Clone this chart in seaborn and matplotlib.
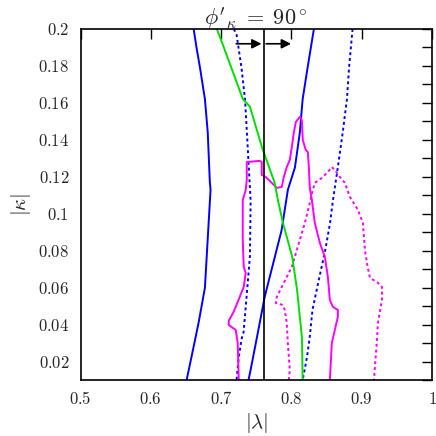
import numpy as np
import pandas as pd
import matplotlib
matplotlib.use("Agg")
import matplotlib.pyplot as plt
import seaborn as sns

# ---------------------------------------------------------
# Curve data
# ---------------------------------------------------------
blue_left_x = [0.661, 0.665, 0.670, 0.677, 0.681, 0.684, 0.685, 0.680, 0.677, 0.668, 0.662, 0.651]
blue_left_y = [0.200, 0.190, 0.179, 0.162, 0.144, 0.117, 0.113, 0.080, 0.060, 0.041, 0.030, 0.010]

blue_right_x = [0.739, 0.742, 0.755, 0.762, 0.772, 0.786, 0.795, 0.805, 0.812, 0.816, 0.823, 0.832]
blue_right_y = [0.010, 0.0155, 0.041, 0.055, 0.070, 0.091, 0.113, 0.125, 0.144, 0.162, 0.179, 0.200]

blue_dot_left_x = [0.718, 0.722, 0.729, 0.734, 0.738, 0.742, 0.741, 0.736, 0.732, 0.729, 0.725, 0.722]
blue_dot_left_y = [0.200, 0.197, 0.179, 0.162, 0.135, 0.107, 0.077, 0.054, 0.036, 0.032, 0.022, 0.010]

blue_dot_right_x = [0.887, 0.882, 0.879, 0.873, 0.866, 0.859, 0.855, 0.848, 0.840, 0.830, 0.826, 0.822, 0.816]
blue_dot_right_y = [0.200, 0.179, 0.162, 0.144, 0.125, 0.107, 0.095, 0.080, 0.066, 0.048, 0.033, 0.022, 0.010]

green_x = [0.694, 0.702, 0.731, 0.741, 0.755, 0.759, 0.776, 0.781, 0.788, 0.801, 0.808, 0.815, 0.816]
green_y = [0.200, 0.192, 0.162, 0.158, 0.140, 0.135, 0.117, 0.107, 0.095, 0.077, 0.059, 0.033, 0.010]

mag_x = [0.7251, 0.7236, 0.7208, 0.7108, 0.7108, 0.7179, 0.7265, 0.7322, 0.7350, 0.7322, 0.7308,
         0.7308, 0.7350, 0.7365, 0.7365, 0.7550, 0.7578, 0.7578, 0.7635, 0.7721, 0.7792, 0.7863,
         0.7892, 0.7934, 0.7977, 0.8006, 0.8034, 0.8063, 0.8120, 0.8148, 0.8162, 0.8205, 0.8234,
         0.8248, 0.8262, 0.8291, 0.8333, 0.8405, 0.8476, 0.8519, 0.8547, 0.8590, 0.8661, 0.8661,
         0.8618, 0.8575, 0.8547]
mag_y = [0.0100, 0.0301, 0.0371, 0.0398, 0.0420, 0.0469, 0.0550, 0.0604, 0.0680, 0.0712, 0.0858,
         0.1075, 0.1129, 0.1183, 0.1280, 0.1286, 0.1280, 0.1210, 0.1199, 0.1167, 0.1140, 0.1145,
         0.1199, 0.1253, 0.1291, 0.1361, 0.1437, 0.1497, 0.1524, 0.1508, 0.1399, 0.1345, 0.1334,
         0.1253, 0.1140, 0.1075, 0.0950, 0.0842, 0.0766, 0.0658, 0.0534, 0.0496, 0.0479, 0.0442,
         0.0371, 0.0301, 0.0100]

mag_dot_x = [0.7963, 0.7977, 0.7949, 0.7934, 0.7906, 0.7877, 0.7778, 0.7792, 0.7863, 0.8006,
             0.8048, 0.8191, 0.8262, 0.8305, 0.8333, 0.8433, 0.8519, 0.8575, 0.8618, 0.8689,
             0.8761, 0.8832, 0.8946, 0.9017, 0.9046, 0.9074, 0.9117, 0.9231, 0.9288, 0.9288,
             0.9231, 0.9217, 0.9188, 0.9174]
mag_dot_y = [0.0100, 0.0155, 0.0301, 0.0409, 0.0479, 0.0506, 0.0517, 0.0550, 0.0604, 0.0712,
             0.0766, 0.0950, 0.1058, 0.1129, 0.1167, 0.1194, 0.1226, 0.1253, 0.1237, 0.1199,
             0.1167, 0.1091, 0.1021, 0.0950, 0.0804, 0.0734, 0.0653, 0.0626, 0.0604, 0.0534,
             0.0409, 0.0317, 0.0171, 0.0100]

cut_x = 0.761
arrow_y = 0.192
arrow_starts = [0.7215, 0.7640]
arrow_ends = [0.7575, 0.7995]

x_ticks = [0.5, 0.6, 0.7, 0.8, 0.9, 1.0]
x_ticklabels = ["0.5", "0.6", "0.7", "0.8", "0.9", "1"]
y_ticks = [0.02, 0.04, 0.06, 0.08, 0.10, 0.12, 0.14, 0.16, 0.18, 0.20]
y_ticklabels = ["0.02", "0.04", "0.06", "0.08", "0.1", "0.12", "0.14", "0.16", "0.18", "0.2"]

# ---------------------------------------------------------
# Plot
# ---------------------------------------------------------
sns.set_theme(style="white")
plt.rcParams["mathtext.fontset"] = "cm"
plt.rcParams["font.family"] = ["DejaVu Serif"]

fig = plt.figure(figsize=(4.36, 4.36), dpi=100)
ax = fig.add_axes([80.5 / 436, 56 / 436, 351.5 / 436, 351 / 436])

curves = [
    (blue_left_x, blue_left_y, "#0000ff", "-"),
    (blue_right_x, blue_right_y, "#0000ff", "-"),
    (blue_dot_left_x, blue_dot_left_y, "#0000ff", (0, (1.5, 1.5))),
    (blue_dot_right_x, blue_dot_right_y, "#0000ff", (0, (1.5, 1.5))),
    (mag_x, mag_y, "#ff00ff", "-"),
    (mag_dot_x, mag_dot_y, "#ff00ff", (0, (1.5, 1.5))),
    (green_x, green_y, "#00e000", "-"),
]
for xs, ys, col, ls in curves:
    df = pd.DataFrame({"x": xs, "y": ys})
    sns.lineplot(data=df, x="x", y="y", sort=False, estimator=None,
                 color=col, linestyle=ls, linewidth=1.4, ax=ax)

ax.axvline(cut_x, color="black", linewidth=1.2)
for x0, x1 in zip(arrow_starts, arrow_ends):
    ax.annotate("", xy=(x1, arrow_y), xytext=(x0, arrow_y),
                arrowprops=dict(arrowstyle="-|>", color="black", lw=1.2,
                                mutation_scale=14, shrinkA=0, shrinkB=0))

ax.set_xlim(0.5, 1.0)
ax.set_ylim(0.01, 0.2)
ax.set_xticks(x_ticks)
ax.set_xticklabels(["$" + t + "$" for t in x_ticklabels], fontsize=12)
ax.set_yticks(y_ticks)
ax.set_yticklabels(["$" + t + "$" for t in y_ticklabels], fontsize=12)
ax.set_yticks(np.arange(0.01, 0.2, 0.02), minor=True)
ax.tick_params(which="both", direction="in", top=True, right=True,
               length=7, width=1, color="black", pad=8)
ax.tick_params(axis="x", which="minor", top=False, bottom=False)

for s in ax.spines.values():
    s.set_color("black")
    s.set_linewidth(1.2)

ax.set_xlabel(r"$|\lambda|$", fontsize=15, labelpad=2)
ax.set_ylabel(r"$|\kappa|$", fontsize=15, labelpad=4)
ax.set_title(r"$\phi'_\kappa\;=\;90^\circ$", fontsize=16, pad=3)

plt.savefig("out.png", dpi=100)
plt.close()
